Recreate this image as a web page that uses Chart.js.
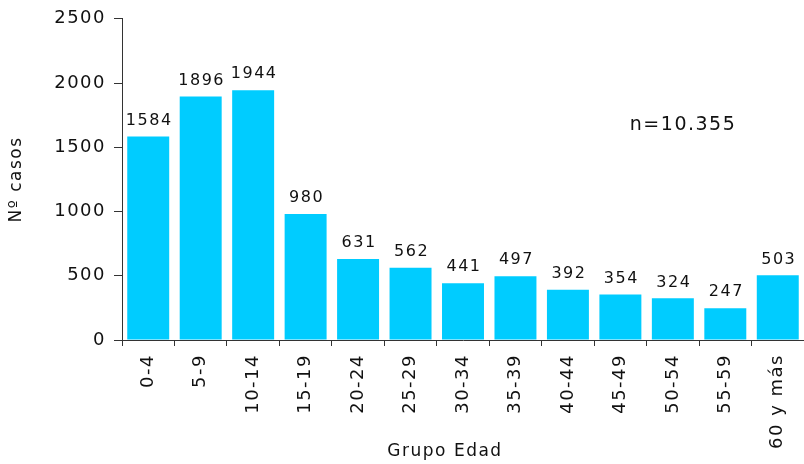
<!DOCTYPE html>
<html>
<head>
<meta charset="utf-8">
<script src="https://cdn.jsdelivr.net/npm/chart.js@4/dist/chart.umd.min.js"></script>
<style>
html,body{margin:0;padding:0;background:#fff;}
#wrap{width:804px;height:464px;position:relative;}
</style>
</head>
<body>
<div id="wrap"><canvas id="c"></canvas></div>
<script>
const categories = ["0-4","5-9","10-14","15-19","20-24","25-29","30-34","35-39","40-44","45-49","50-54","55-59","60 y más"];
const casos = [1584,1896,1944,980,631,562,441,497,392,354,324,247,503];
const yTicks = [0,500,1000,1500,2000,2500];
const totalLabel = "n=10.355";
const xTitle = "Grupo Edad";
const yTitle = "Nº casos";

const FONT = "'DejaVu Sans', Verdana, sans-serif";
const TXT = "#111111";
const LS = '1.5px';

const spacing = {
  id: 'spacing',
  beforeUpdate(chart){ chart.ctx.letterSpacing = LS; },
  beforeLayout(chart){ chart.ctx.letterSpacing = LS; },
  beforeDraw(chart){ chart.ctx.letterSpacing = LS; }
};

const labelsPlugin = {
  id: 'valueLabels',
  afterDatasetsDraw(chart){
    const ctx = chart.ctx;
    const meta = chart.getDatasetMeta(0);
    ctx.save();
    ctx.letterSpacing = LS;
    ctx.fillStyle = TXT;
    ctx.font = "16px " + FONT;
    ctx.textAlign = 'center';
    ctx.textBaseline = 'bottom';
    meta.data.forEach((bar, i) => {
      ctx.fillText(String(casos[i]), bar.x + 1, bar.y - 8);
    });
    const xs = chart.scales.x, ys = chart.scales.y;
    ctx.font = "19px " + FONT;
    ctx.textAlign = 'left';
    ctx.textBaseline = 'middle';
    ctx.fillText(totalLabel, xs.getPixelForValue(9.18), ys.getPixelForValue(1670));
    // x axis title
    ctx.font = "17px " + FONT;
    ctx.textAlign = 'center';
    ctx.fillText(xTitle, (chart.chartArea.left + chart.chartArea.right) / 2 - 18, 452);
    ctx.restore();
  }
};

new Chart(document.getElementById('c'), {
  type: 'bar',
  data: {
    labels: categories,
    datasets: [{
      data: casos,
      backgroundColor: '#00CCFF',
      borderWidth: 0,
      categoryPercentage: 1.0,
      barPercentage: 0.8
    }]
  },
  options: {
    responsive: true,
    maintainAspectRatio: false,
    animation: false,
    layout: { padding: { top: 16, right: 0, left: 0, bottom: 0 } },
    plugins: { legend: { display: false }, tooltip: { enabled: false } },
    scales: {
      x: {
        grid: { display: true, drawOnChartArea: false, drawTicks: true, tickLength: 6, color: '#333', offset: true },
        border: { display: true, color: '#333', width: 1 },
        ticks: { color: TXT, font: { family: FONT, size: 18 }, minRotation: 90, maxRotation: 90, padding: 8, autoSkip: false },
        title: { display: false },
        afterFit(s){ s.height = 124; s.paddingRight = 0; s.paddingLeft = 0; }
      },
      y: {
        min: 0, max: 2500,
        afterBuildTicks(s){ s.ticks = yTicks.map(v => ({ value: v })); },
        grid: { display: true, drawOnChartArea: false, drawTicks: true, tickLength: 8, color: '#333' },
        border: { display: true, color: '#333', width: 1 },
        ticks: { color: TXT, font: { family: FONT, size: 18 }, padding: 8, callback: v => String(v) },
        title: { display: true, text: yTitle, color: TXT, font: { family: FONT, size: 17 }, padding: { top: 6, bottom: 4 } },
        afterFit(s){ s.width = 122; }
      }
    }
  },
  plugins: [spacing, labelsPlugin]
});
</script>
</body>
</html>
